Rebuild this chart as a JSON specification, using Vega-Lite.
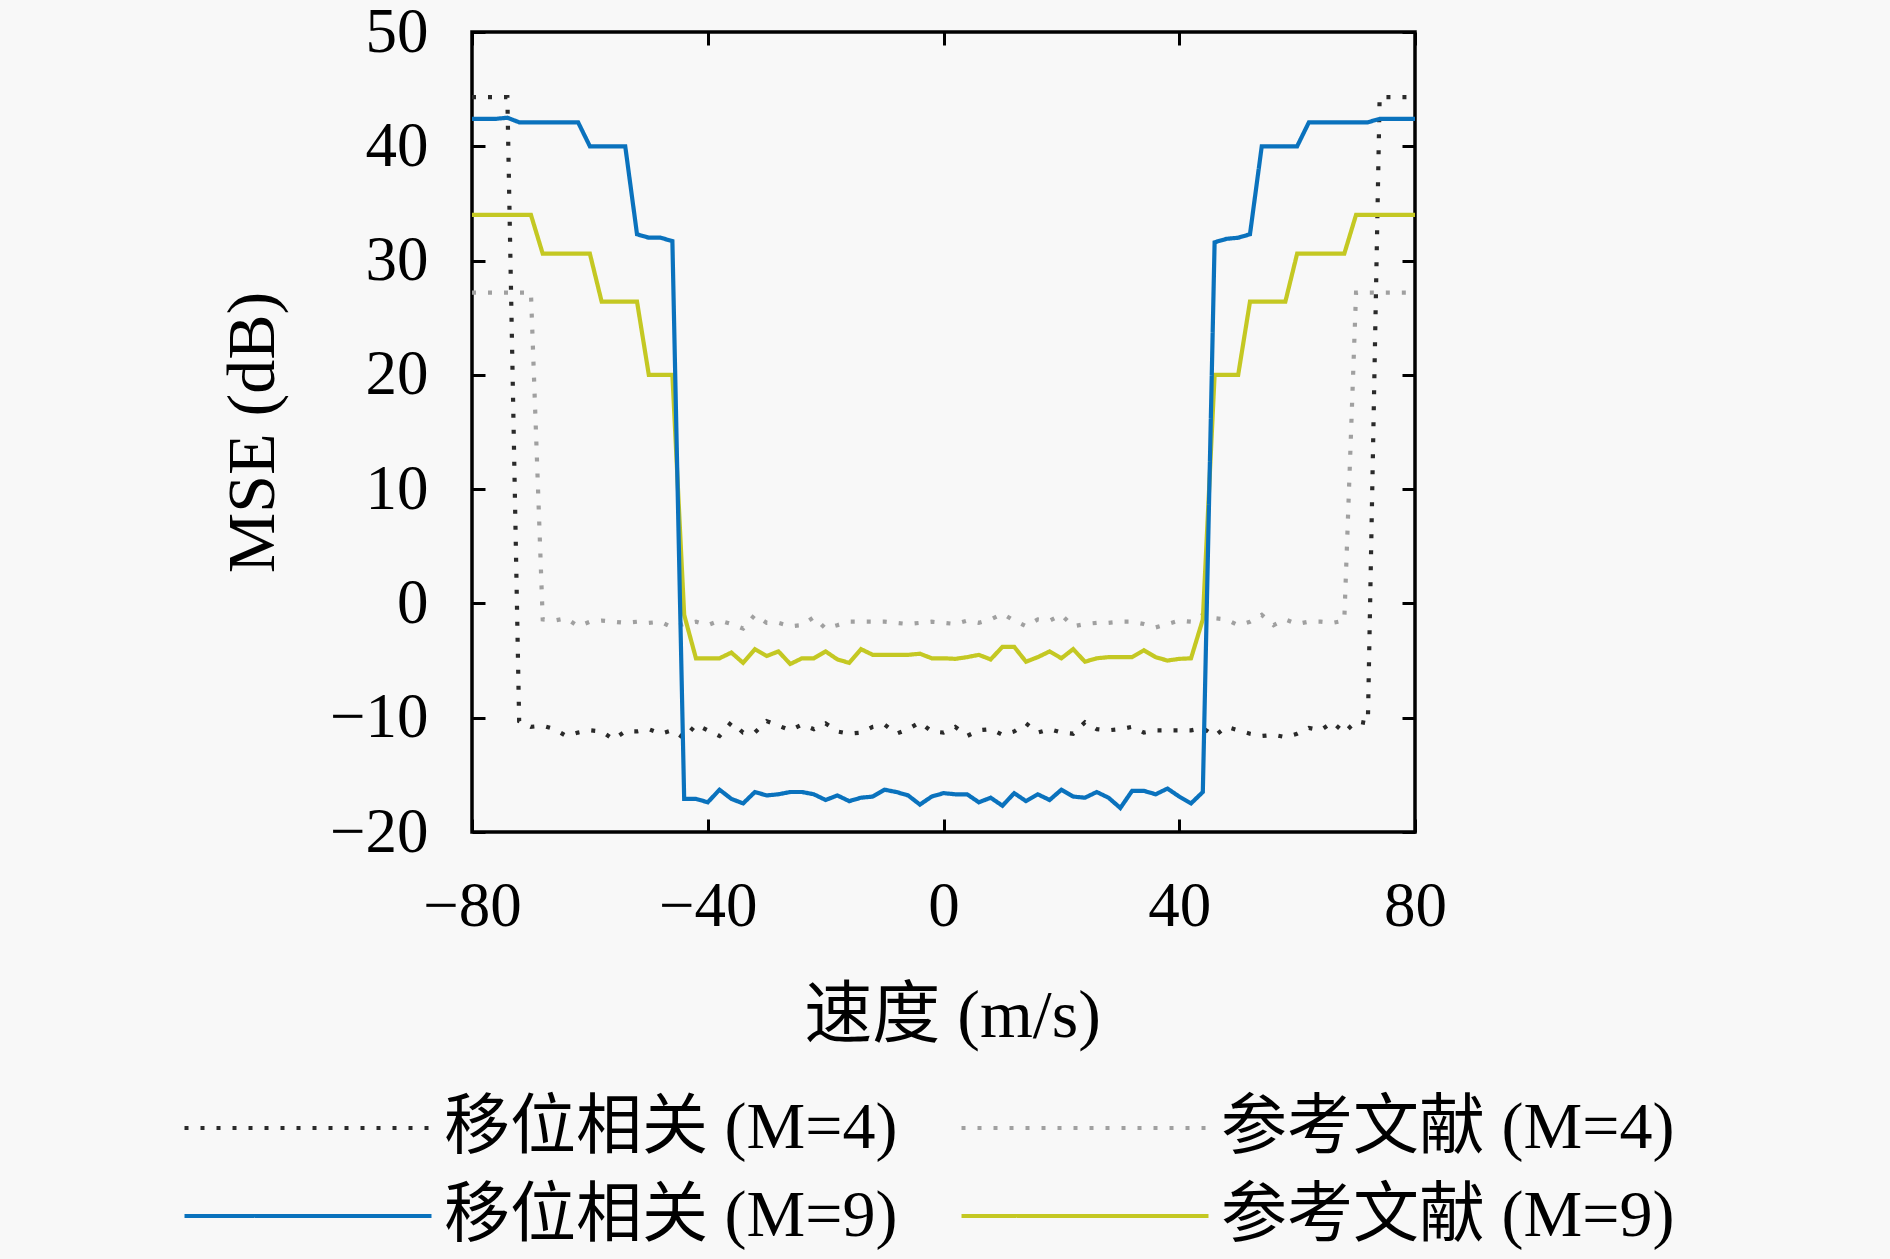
{
  "$schema": "https://vega.github.io/schema/vega-lite/v6.json",
  "width": 943,
  "height": 800,
  "autosize": {"type": "none"},
  "padding": {"left": 472, "top": 32, "right": 475, "bottom": 427},
  "background": "#f8f8f8",
  "data": {
    "values": [
      {"v": -80, "移位相关 (M=4)": 44.3, "参考文献 (M=4)": 27.2, "移位相关 (M=9)": 42.4, "参考文献 (M=9)": 34.0},
      {"v": -78, "移位相关 (M=4)": 44.3, "参考文献 (M=4)": 27.2, "移位相关 (M=9)": 42.4, "参考文献 (M=9)": 34.0},
      {"v": -76, "移位相关 (M=4)": 44.3, "参考文献 (M=4)": 27.2, "移位相关 (M=9)": 42.4, "参考文献 (M=9)": 34.0},
      {"v": -74, "移位相关 (M=4)": 44.3, "参考文献 (M=4)": 27.2, "移位相关 (M=9)": 42.5, "参考文献 (M=9)": 34.0},
      {"v": -72, "移位相关 (M=4)": -10.3, "参考文献 (M=4)": 27.2, "移位相关 (M=9)": 42.1, "参考文献 (M=9)": 34.0},
      {"v": -70, "移位相关 (M=4)": -10.8, "参考文献 (M=4)": 27.2, "移位相关 (M=9)": 42.1, "参考文献 (M=9)": 34.0},
      {"v": -68, "移位相关 (M=4)": -10.7, "参考文献 (M=4)": -1.4, "移位相关 (M=9)": 42.1, "参考文献 (M=9)": 30.6},
      {"v": -66, "移位相关 (M=4)": -11.0, "参考文献 (M=4)": -1.5, "移位相关 (M=9)": 42.1, "参考文献 (M=9)": 30.6},
      {"v": -64, "移位相关 (M=4)": -11.6, "参考文献 (M=4)": -1.3, "移位相关 (M=9)": 42.1, "参考文献 (M=9)": 30.6},
      {"v": -62, "移位相关 (M=4)": -11.3, "参考文献 (M=4)": -2.0, "移位相关 (M=9)": 42.1, "参考文献 (M=9)": 30.6},
      {"v": -60, "移位相关 (M=4)": -11.1, "参考文献 (M=4)": -1.6, "移位相关 (M=9)": 40.0, "参考文献 (M=9)": 30.6},
      {"v": -58, "移位相关 (M=4)": -11.2, "参考文献 (M=4)": -1.5, "移位相关 (M=9)": 40.0, "参考文献 (M=9)": 26.4},
      {"v": -56, "移位相关 (M=4)": -11.9, "参考文献 (M=4)": -1.6, "移位相关 (M=9)": 40.0, "参考文献 (M=9)": 26.4},
      {"v": -54, "移位相关 (M=4)": -11.2, "参考文献 (M=4)": -1.7, "移位相关 (M=9)": 40.0, "参考文献 (M=9)": 26.4},
      {"v": -52, "移位相关 (M=4)": -11.2, "参考文献 (M=4)": -1.6, "移位相关 (M=9)": 32.3, "参考文献 (M=9)": 26.4},
      {"v": -50, "移位相关 (M=4)": -11.0, "参考文献 (M=4)": -1.7, "移位相关 (M=9)": 32.0, "参考文献 (M=9)": 20.0},
      {"v": -48, "移位相关 (M=4)": -11.4, "参考文献 (M=4)": -1.6, "移位相关 (M=9)": 32.0, "参考文献 (M=9)": 20.0},
      {"v": -46, "移位相关 (M=4)": -11.1, "参考文献 (M=4)": -2.1, "移位相关 (M=9)": 31.7, "参考文献 (M=9)": 20.0},
      {"v": -44, "移位相关 (M=4)": -11.8, "参考文献 (M=4)": -1.8, "移位相关 (M=9)": -17.1, "参考文献 (M=9)": -1.0},
      {"v": -42, "移位相关 (M=4)": -10.6, "参考文献 (M=4)": -1.6, "移位相关 (M=9)": -17.1, "参考文献 (M=9)": -4.8},
      {"v": -40, "移位相关 (M=4)": -11.1, "参考文献 (M=4)": -1.9, "移位相关 (M=9)": -17.4, "参考文献 (M=9)": -4.8},
      {"v": -38, "移位相关 (M=4)": -11.6, "参考文献 (M=4)": -1.5, "移位相关 (M=9)": -16.3, "参考文献 (M=9)": -4.8},
      {"v": -36, "移位相关 (M=4)": -10.4, "参考文献 (M=4)": -1.8, "移位相关 (M=9)": -17.1, "参考文献 (M=9)": -4.3},
      {"v": -34, "移位相关 (M=4)": -11.3, "参考文献 (M=4)": -2.2, "移位相关 (M=9)": -17.5, "参考文献 (M=9)": -5.2},
      {"v": -32, "移位相关 (M=4)": -11.3, "参考文献 (M=4)": -1.0, "移位相关 (M=9)": -16.5, "参考文献 (M=9)": -4.0},
      {"v": -30, "移位相关 (M=4)": -10.3, "参考文献 (M=4)": -1.7, "移位相关 (M=9)": -16.8, "参考文献 (M=9)": -4.6},
      {"v": -28, "移位相关 (M=4)": -10.7, "参考文献 (M=4)": -1.7, "移位相关 (M=9)": -16.7, "参考文献 (M=9)": -4.2},
      {"v": -26, "移位相关 (M=4)": -11.1, "参考文献 (M=4)": -2.0, "移位相关 (M=9)": -16.5, "参考文献 (M=9)": -5.3},
      {"v": -24, "移位相关 (M=4)": -10.6, "参考文献 (M=4)": -1.9, "移位相关 (M=9)": -16.5, "参考文献 (M=9)": -4.8},
      {"v": -22, "移位相关 (M=4)": -11.0, "参考文献 (M=4)": -1.2, "移位相关 (M=9)": -16.7, "参考文献 (M=9)": -4.8},
      {"v": -20, "移位相关 (M=4)": -10.5, "参考文献 (M=4)": -2.2, "移位相关 (M=9)": -17.2, "参考文献 (M=9)": -4.2},
      {"v": -18, "移位相关 (M=4)": -11.2, "参考文献 (M=4)": -1.9, "移位相关 (M=9)": -16.8, "参考文献 (M=9)": -4.9},
      {"v": -16, "移位相关 (M=4)": -11.4, "参考文献 (M=4)": -1.6, "移位相关 (M=9)": -17.3, "参考文献 (M=9)": -5.2},
      {"v": -14, "移位相关 (M=4)": -11.3, "参考文献 (M=4)": -1.6, "移位相关 (M=9)": -17.0, "参考文献 (M=9)": -4.0},
      {"v": -12, "移位相关 (M=4)": -10.8, "参考文献 (M=4)": -1.6, "移位相关 (M=9)": -16.9, "参考文献 (M=9)": -4.5},
      {"v": -10, "移位相关 (M=4)": -10.6, "参考文献 (M=4)": -1.6, "移位相关 (M=9)": -16.3, "参考文献 (M=9)": -4.5},
      {"v": -8, "移位相关 (M=4)": -11.4, "参考文献 (M=4)": -1.7, "移位相关 (M=9)": -16.5, "参考文献 (M=9)": -4.5},
      {"v": -6, "移位相关 (M=4)": -11.0, "参考文献 (M=4)": -1.8, "移位相关 (M=9)": -16.8, "参考文献 (M=9)": -4.5},
      {"v": -4, "移位相关 (M=4)": -10.4, "参考文献 (M=4)": -1.7, "移位相关 (M=9)": -17.6, "参考文献 (M=9)": -4.4},
      {"v": -2, "移位相关 (M=4)": -11.2, "参考文献 (M=4)": -1.6, "移位相关 (M=9)": -16.9, "参考文献 (M=9)": -4.8},
      {"v": 0, "移位相关 (M=4)": -11.3, "参考文献 (M=4)": -1.7, "移位相关 (M=9)": -16.6, "参考文献 (M=9)": -4.8},
      {"v": 2, "移位相关 (M=4)": -10.8, "参考文献 (M=4)": -1.8, "移位相关 (M=9)": -16.7, "参考文献 (M=9)": -4.85},
      {"v": 4, "移位相关 (M=4)": -11.6, "参考文献 (M=4)": -1.5, "移位相关 (M=9)": -16.7, "参考文献 (M=9)": -4.7},
      {"v": 6, "移位相关 (M=4)": -11.1, "参考文献 (M=4)": -1.7, "移位相关 (M=9)": -17.4, "参考文献 (M=9)": -4.5},
      {"v": 8, "移位相关 (M=4)": -11.0, "参考文献 (M=4)": -1.4, "移位相关 (M=9)": -17.0, "参考文献 (M=9)": -4.9},
      {"v": 10, "移位相关 (M=4)": -11.5, "参考文献 (M=4)": -0.9, "移位相关 (M=9)": -17.7, "参考文献 (M=9)": -3.8},
      {"v": 12, "移位相关 (M=4)": -11.2, "参考文献 (M=4)": -1.5, "移位相关 (M=9)": -16.6, "参考文献 (M=9)": -3.8},
      {"v": 14, "移位相关 (M=4)": -10.5, "参考文献 (M=4)": -2.0, "移位相关 (M=9)": -17.3, "参考文献 (M=9)": -5.1},
      {"v": 16, "移位相关 (M=4)": -11.3, "参考文献 (M=4)": -1.4, "移位相关 (M=9)": -16.7, "参考文献 (M=9)": -4.7},
      {"v": 18, "移位相关 (M=4)": -11.0, "参考文献 (M=4)": -1.5, "移位相关 (M=9)": -17.2, "参考文献 (M=9)": -4.2},
      {"v": 20, "移位相关 (M=4)": -11.3, "参考文献 (M=4)": -1.0, "移位相关 (M=9)": -16.3, "参考文献 (M=9)": -4.8},
      {"v": 22, "移位相关 (M=4)": -11.4, "参考文献 (M=4)": -2.0, "移位相关 (M=9)": -16.9, "参考文献 (M=9)": -4.0},
      {"v": 24, "移位相关 (M=4)": -10.4, "参考文献 (M=4)": -1.8, "移位相关 (M=9)": -17.0, "参考文献 (M=9)": -5.1},
      {"v": 26, "移位相关 (M=4)": -11.0, "参考文献 (M=4)": -1.7, "移位相关 (M=9)": -16.5, "参考文献 (M=9)": -4.8},
      {"v": 28, "移位相关 (M=4)": -11.1, "参考文献 (M=4)": -1.7, "移位相关 (M=9)": -17.0, "参考文献 (M=9)": -4.7},
      {"v": 30, "移位相关 (M=4)": -11.0, "参考文献 (M=4)": -1.6, "移位相关 (M=9)": -17.9, "参考文献 (M=9)": -4.7},
      {"v": 32, "移位相关 (M=4)": -10.8, "参考文献 (M=4)": -1.6, "移位相关 (M=9)": -16.4, "参考文献 (M=9)": -4.7},
      {"v": 34, "移位相关 (M=4)": -11.3, "参考文献 (M=4)": -1.8, "移位相关 (M=9)": -16.4, "参考文献 (M=9)": -4.1},
      {"v": 36, "移位相关 (M=4)": -11.1, "参考文献 (M=4)": -2.1, "移位相关 (M=9)": -16.7, "参考文献 (M=9)": -4.7},
      {"v": 38, "移位相关 (M=4)": -11.1, "参考文献 (M=4)": -1.8, "移位相关 (M=9)": -16.2, "参考文献 (M=9)": -5.0},
      {"v": 40, "移位相关 (M=4)": -11.1, "参考文献 (M=4)": -1.5, "移位相关 (M=9)": -16.9, "参考文献 (M=9)": -4.85},
      {"v": 42, "移位相关 (M=4)": -11.1, "参考文献 (M=4)": -1.6, "移位相关 (M=9)": -17.5, "参考文献 (M=9)": -4.8},
      {"v": 44, "移位相关 (M=4)": -10.9, "参考文献 (M=4)": -1.0, "移位相关 (M=9)": -16.5, "参考文献 (M=9)": -1.4},
      {"v": 46, "移位相关 (M=4)": -11.6, "参考文献 (M=4)": -1.3, "移位相关 (M=9)": 31.6, "参考文献 (M=9)": 20.0},
      {"v": 48, "移位相关 (M=4)": -10.8, "参考文献 (M=4)": -1.4, "移位相关 (M=9)": 31.9, "参考文献 (M=9)": 20.0},
      {"v": 50, "移位相关 (M=4)": -11.1, "参考文献 (M=4)": -1.9, "移位相关 (M=9)": 32.0, "参考文献 (M=9)": 20.0},
      {"v": 52, "移位相关 (M=4)": -11.4, "参考文献 (M=4)": -1.6, "移位相关 (M=9)": 32.3, "参考文献 (M=9)": 26.4},
      {"v": 54, "移位相关 (M=4)": -11.6, "参考文献 (M=4)": -1.0, "移位相关 (M=9)": 40.0, "参考文献 (M=9)": 26.4},
      {"v": 56, "移位相关 (M=4)": -11.5, "参考文献 (M=4)": -1.9, "移位相关 (M=9)": 40.0, "参考文献 (M=9)": 26.4},
      {"v": 58, "移位相关 (M=4)": -11.7, "参考文献 (M=4)": -1.4, "移位相关 (M=9)": 40.0, "参考文献 (M=9)": 26.4},
      {"v": 60, "移位相关 (M=4)": -11.4, "参考文献 (M=4)": -1.8, "移位相关 (M=9)": 40.0, "参考文献 (M=9)": 30.6},
      {"v": 62, "移位相关 (M=4)": -10.9, "参考文献 (M=4)": -1.6, "移位相关 (M=9)": 42.1, "参考文献 (M=9)": 30.6},
      {"v": 64, "移位相关 (M=4)": -11.1, "参考文献 (M=4)": -1.6, "移位相关 (M=9)": 42.1, "参考文献 (M=9)": 30.6},
      {"v": 66, "移位相关 (M=4)": -10.4, "参考文献 (M=4)": -1.7, "移位相关 (M=9)": 42.1, "参考文献 (M=9)": 30.6},
      {"v": 68, "移位相关 (M=4)": -11.3, "参考文献 (M=4)": -1.5, "移位相关 (M=9)": 42.1, "参考文献 (M=9)": 30.6},
      {"v": 70, "移位相关 (M=4)": -10.3, "参考文献 (M=4)": 27.2, "移位相关 (M=9)": 42.1, "参考文献 (M=9)": 34.0},
      {"v": 72, "移位相关 (M=4)": -10.5, "参考文献 (M=4)": 27.2, "移位相关 (M=9)": 42.1, "参考文献 (M=9)": 34.0},
      {"v": 74, "移位相关 (M=4)": 44.3, "参考文献 (M=4)": 27.2, "移位相关 (M=9)": 42.4, "参考文献 (M=9)": 34.0},
      {"v": 76, "移位相关 (M=4)": 44.3, "参考文献 (M=4)": 27.2, "移位相关 (M=9)": 42.4, "参考文献 (M=9)": 34.0},
      {"v": 78, "移位相关 (M=4)": 44.3, "参考文献 (M=4)": 27.2, "移位相关 (M=9)": 42.4, "参考文献 (M=9)": 34.0},
      {"v": 80, "移位相关 (M=4)": 44.3, "参考文献 (M=4)": 27.2, "移位相关 (M=9)": 42.4, "参考文献 (M=9)": 34.0}
    ]
  },
  "transform": [
    {"fold": ["移位相关 (M=4)", "参考文献 (M=4)", "参考文献 (M=9)", "移位相关 (M=9)"], "as": ["series", "mse"]}
  ],
  "layer": [
    {
      "mark": {"type": "line", "strokeWidth": 4.2, "clip": true},
      "encoding": {
        "x": {
          "field": "v",
          "type": "quantitative",
          "scale": {"domain": [-80, 80], "nice": false},
          "axis": {
            "values": [-80, -40, 0, 40, 80],
            "title": "速度 (m/s)",
            "titleFontSize": 68,
            "labelPadding": 56,
            "titleX": 480,
            "titleY": 184,
            "titleAlign": "center",
            "titleBaseline": "middle"
          }
        },
        "y": {
          "field": "mse",
          "type": "quantitative",
          "scale": {"domain": [-20, 50], "nice": false},
          "axis": {
            "values": [-20, -10, 0, 10, 20, 30, 40, 50],
            "title": "MSE (dB)",
            "titleFontSize": 68,
            "labelPadding": 57,
            "titleX": -219,
            "titleY": 400,
            "titleAngle": 270,
            "titleAlign": "center",
            "titleBaseline": "middle"
          }
        },
        "color": {
          "field": "series",
          "type": "nominal",
          "scale": {
            "domain": ["移位相关 (M=4)", "参考文献 (M=4)", "移位相关 (M=9)", "参考文献 (M=9)"],
            "range": ["#2a2a2a", "#a0a0a0", "#0a72bd", "#c4c823"]
          },
          "legend": {
            "title": null,
            "orient": "none",
            "direction": "horizontal",
            "legendX": -197,
            "legendY": 1063,
            "columns": 2,
            "symbolType": "M-5,0H5",
            "symbolSize": 2440,
            "symbolStrokeWidth": 4.2,
            "labelOffset": 103,
            "labelFontSize": 66,
            "labelLimit": 1000,
            "rowPadding": 22,
            "columnPadding": 55,
            "padding": 0
          }
        },
        "strokeDash": {
          "field": "series",
          "type": "nominal",
          "scale": {
            "domain": ["移位相关 (M=4)", "参考文献 (M=4)", "移位相关 (M=9)", "参考文献 (M=9)"],
            "range": [[4, 12], [4, 12], [1, 0], [1, 0]]
          },
          "legend": {
            "title": null,
            "orient": "none",
            "direction": "horizontal",
            "legendX": -197,
            "legendY": 1063,
            "columns": 2,
            "symbolType": "M-5,0H5",
            "symbolSize": 2440,
            "symbolStrokeWidth": 4.2,
            "labelOffset": 103,
            "labelFontSize": 66,
            "labelLimit": 1000,
            "rowPadding": 22,
            "columnPadding": 55,
            "padding": 0
          }
        }
      }
    },
    {
      "mark": {"type": "line", "opacity": 0},
      "encoding": {
        "x": {
          "field": "v",
          "type": "quantitative",
          "axis": {"orient": "top", "values": [-80, -40, 0, 40, 80], "labels": false, "title": null}
        },
        "y": {
          "field": "mse",
          "type": "quantitative",
          "axis": {"orient": "right", "values": [-20, -10, 0, 10, 20, 30, 40, 50], "labels": false, "title": null}
        }
      }
    }
  ],
  "resolve": {"axis": {"x": "independent", "y": "independent"}},
  "config": {
    "font": "Liberation Serif, Noto Sans CJK SC",
    "view": {"stroke": "#000000", "strokeWidth": 3.5},
    "axis": {
      "domain": false,
      "grid": false,
      "tickSize": -13,
      "tickWidth": 3,
      "tickColor": "#000000",
      "labelFont": "Liberation Serif, Noto Sans CJK SC",
      "labelFontSize": 63,
      "labelColor": "#000000",
      "labelFlush": false,
      "labelOverlap": false,
      "titleFont": "Liberation Serif, Noto Sans CJK SC",
      "titleFontWeight": "normal",
      "titleColor": "#000000"
    },
    "legend": {
      "labelFont": "Liberation Serif, Noto Sans CJK SC",
      "labelColor": "#000000"
    }
  }
}
